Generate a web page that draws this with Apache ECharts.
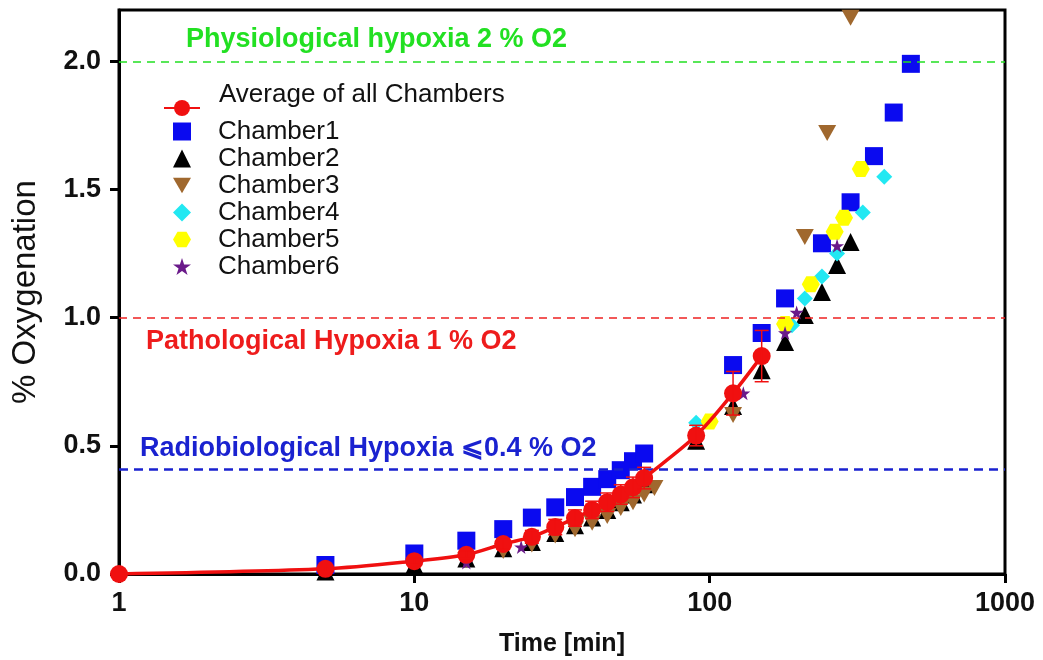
<!DOCTYPE html>
<html>
<head>
<meta charset="utf-8">
<script src="https://cdn.jsdelivr.net/npm/echarts@6/dist/echarts.min.js"></script>
<style>html,body{margin:0;padding:0;background:#fff}#c{width:1043px;height:660px}</style>
</head>
<body>
<div id="c"></div>
<script>
// ---- data ----
const avgTimes = [1, 5, 10, 15, 20, 25, 30, 35, 40, 45, 50, 55, 60, 90, 120, 150];
const avgValues = [0.0, 0.02, 0.05, 0.075, 0.117, 0.145, 0.183, 0.218, 0.25, 0.28, 0.31, 0.338, 0.374, 0.54, 0.705, 0.85];
const avgErrors = [0.0, 0.01, 0.012, 0.015, 0.02, 0.025, 0.03, 0.032, 0.034, 0.036, 0.038, 0.04, 0.042, 0.04, 0.085, 0.1];

const ch1Times = [5, 10, 15, 20, 25, 30, 35, 40, 45, 50, 55, 60, 120, 150, 180, 240, 300, 360, 420, 480];
const ch1Values = [0.035, 0.08, 0.13, 0.175, 0.22, 0.26, 0.30, 0.34, 0.37, 0.405, 0.44, 0.47, 0.815, 0.94, 1.075, 1.29, 1.45, 1.63, 1.80, 1.99];

const ch2Times = [5, 10, 15, 20, 25, 30, 35, 40, 45, 50, 55, 60, 90, 120, 150, 180, 210, 240, 270, 300];
const ch2Values = [0.01, 0.035, 0.06, 0.1, 0.125, 0.16, 0.19, 0.22, 0.25, 0.28, 0.31, 0.35, 0.52, 0.655, 0.795, 0.905, 1.01, 1.10, 1.205, 1.295];

const ch3Times = [15, 20, 25, 30, 35, 40, 45, 50, 55, 60, 65, 120, 210, 250, 300];
const ch3Values = [0.055, 0.09, 0.115, 0.15, 0.175, 0.2, 0.226, 0.257, 0.28, 0.31, 0.335, 0.62, 1.315, 1.72, 2.17];

const ch4Times = [90, 190, 210, 240, 270, 330, 390];
const ch4Values = [0.59, 0.97, 1.075, 1.16, 1.25, 1.41, 1.55];

const ch5Times = [100, 180, 220, 265, 285, 325];
const ch5Values = [0.595, 0.975, 1.13, 1.335, 1.39, 1.58];

const ch6Times = [15, 23, 130, 180, 197, 270];
const ch6Values = [0.045, 0.105, 0.705, 0.94, 1.02, 1.28];

const yTicks = [0, 0.5, 1.0, 1.5, 2.0];
const xTicks = [1, 10, 100, 1000];

const levelPhysio = 2.0;
const levelPatho = 1.0;
const levelRadio = 0.415;

// ---- build ----
const zip = (a, b) => a.map((t, i) => [t, b[i]]);
const FONT = 'Arial, "Liberation Sans", sans-serif';
const HEX = 'path://M-1,0 L-0.5,-0.87 L0.5,-0.87 L1,0 L0.5,0.87 L-0.5,0.87 Z';
const STAR = 'path://M0,-1 L0.2245,-0.309 L0.951,-0.309 L0.363,0.118 L0.588,0.809 L0,0.382 L-0.588,0.809 L-0.363,0.118 L-0.951,-0.309 L-0.2245,-0.309 Z';
const DTRI = 'path://M-1,-0.8 L1,-0.8 L0,0.9 Z';

const chart = echarts.init(document.getElementById('c'));
const legendText = { fontSize: 26, color: '#111', fontFamily: FONT, lineHeight: 27 };
const option = {
  backgroundColor: '#fff',
  animation: false,
  textStyle: { fontFamily: FONT },
  grid: { left: 119, right: 38, top: 10, bottom: 86, show: true, borderColor: '#000', borderWidth: 3,
    containLabel: false, outerBoundsMode: 'none' },
  legend: [
    {
      orient: 'vertical', left: 163, top: 81, padding: 0, itemWidth: 36, itemHeight: 20,
      formatter: n => n + '\n ',
      textStyle: Object.assign({}, legendText, { padding: [0, 0, 0, 14] }),
      data: ['Average of all Chambers']
    },
    {
      orient: 'vertical', left: 173, top: 118, padding: 0, itemGap: 0, itemWidth: 18, itemHeight: 18,
      textStyle: Object.assign({}, legendText, { padding: [0, 0, 0, 22] }),
      data: ['Chamber1', 'Chamber2', 'Chamber3', 'Chamber4', 'Chamber5', 'Chamber6']
    }
  ],
  xAxis: {
    type: 'log', logBase: 10, min: 1, max: 1000,
    name: 'Time [min]', nameLocation: 'middle', nameGap: 58,
    nameTextStyle: { fontSize: 25, fontWeight: 'bold', color: '#111', fontFamily: FONT },
    axisLine: { lineStyle: { color: '#000', width: 3 } },
    axisTick: { show: true, length: 9, lineStyle: { color: '#000', width: 3 } },
    minorTick: { show: false },
    axisLabel: { fontSize: 27, fontWeight: 'bold', color: '#111', margin: 16, fontFamily: FONT,
      formatter: v => (xTicks.indexOf(Math.round(v)) >= 0 ? String(Math.round(v)) : '') },
    splitLine: { show: false }
  },
  yAxis: {
    type: 'value', min: 0, max: 2.2, interval: 0.5,
    name: '% Oxygenation', nameLocation: 'middle', nameGap: 77, nameRotate: 90,
    nameTextStyle: { fontSize: 33, color: '#111', fontFamily: FONT },
    axisLine: { show: true, lineStyle: { color: '#000', width: 3 } },
    axisTick: { show: true, length: 9, lineStyle: { color: '#000', width: 3 }, customValues: yTicks },
    axisLabel: { fontSize: 27, fontWeight: 'bold', color: '#111', margin: 18, fontFamily: FONT,
      customValues: yTicks, formatter: v => v.toFixed(1) },
    splitLine: { show: false }
  },
  graphic: [
    { type: 'text', x: 186, y: 40, style: { text: 'Physiological hypoxia 2 % O2', fill: '#22e022', font: 'bold 27px ' + FONT, verticalAlign: 'middle' } },
    { type: 'text', x: 146, y: 342, style: { text: 'Pathological Hypoxia 1 % O2', fill: '#ee1c1c', font: 'bold 27px ' + FONT, verticalAlign: 'middle' } },
    { type: 'text', x: 140, y: 449, style: { text: 'Radiobiological Hypoxia \u2A7D0.4 % O2', fill: '#1a22d0', font: 'bold 27px ' + FONT, verticalAlign: 'middle' } }
  ],
  series: [
    {
      name: 'refs', type: 'line', data: [], silent: true, z: 1,
      markLine: {
        silent: true, symbol: 'none', label: { show: false },
        data: [
          { yAxis: levelPhysio, lineStyle: { color: '#22e022', type: [8, 6], width: 1.5 } },
          { yAxis: levelPatho, lineStyle: { color: '#ee2222', type: [8, 6], width: 1.5 } },
          { yAxis: levelRadio, lineStyle: { color: '#1a22d0', type: [9, 6], width: 2.5 } }
        ]
      }
    },
    { name: 'Chamber1', type: 'scatter', data: zip(ch1Times, ch1Values), symbol: 'rect', symbolSize: 18,
      itemStyle: { color: '#0a0af0', opacity: 1 }, z: 3 },
    { name: 'Chamber2', type: 'scatter', data: zip(ch2Times, ch2Values), symbol: 'triangle', symbolSize: 18,
      itemStyle: { color: '#000', opacity: 1 }, z: 3 },
    { name: 'Chamber3', type: 'scatter', data: zip(ch3Times, ch3Values), symbol: DTRI, symbolSize: [18, 16],
      itemStyle: { color: '#a0682e', opacity: 1 }, z: 3 },
    { name: 'Chamber4', type: 'scatter', data: zip(ch4Times, ch4Values), symbol: 'diamond', symbolSize: 16,
      itemStyle: { color: '#22e8f2', opacity: 1 }, z: 3 },
    { name: 'Chamber5', type: 'scatter', data: zip(ch5Times, ch5Values), symbol: HEX, symbolSize: [18, 16],
      itemStyle: { color: '#ffff00', opacity: 1 }, z: 3 },
    { name: 'Chamber6', type: 'scatter', data: zip(ch6Times, ch6Values), symbol: STAR, symbolSize: 14,
      itemStyle: { color: '#6a1a8a', opacity: 1 }, z: 3 },
    { name: 'Average of all Chambers', type: 'line', data: zip(avgTimes, avgValues), smooth: 0.3,
      symbol: 'circle', symbolSize: 18, showSymbol: true,
      lineStyle: { color: '#f01010', width: 3.5 }, itemStyle: { color: '#f01010', opacity: 1 }, z: 5 },
    { name: 'err', type: 'custom', z: 6, silent: true,
      data: avgTimes.map((t, i) => [t, avgValues[i] - avgErrors[i], avgValues[i] + avgErrors[i]]),
      renderItem: (params, api) => {
        const lo = api.coord([api.value(0), api.value(1)]);
        const hi = api.coord([api.value(0), api.value(2)]);
        const w = 7;
        const st = { stroke: '#f01010', lineWidth: 1.5 };
        return { type: 'group', children: [
          { type: 'line', shape: { x1: hi[0], y1: hi[1], x2: lo[0], y2: lo[1] }, style: st },
          { type: 'line', shape: { x1: hi[0] - w, y1: hi[1], x2: hi[0] + w, y2: hi[1] }, style: st },
          { type: 'line', shape: { x1: lo[0] - w, y1: lo[1], x2: lo[0] + w, y2: lo[1] }, style: st }
        ]};
      }
    }
  ]
};
chart.setOption(option);
</script>
</body>
</html>
